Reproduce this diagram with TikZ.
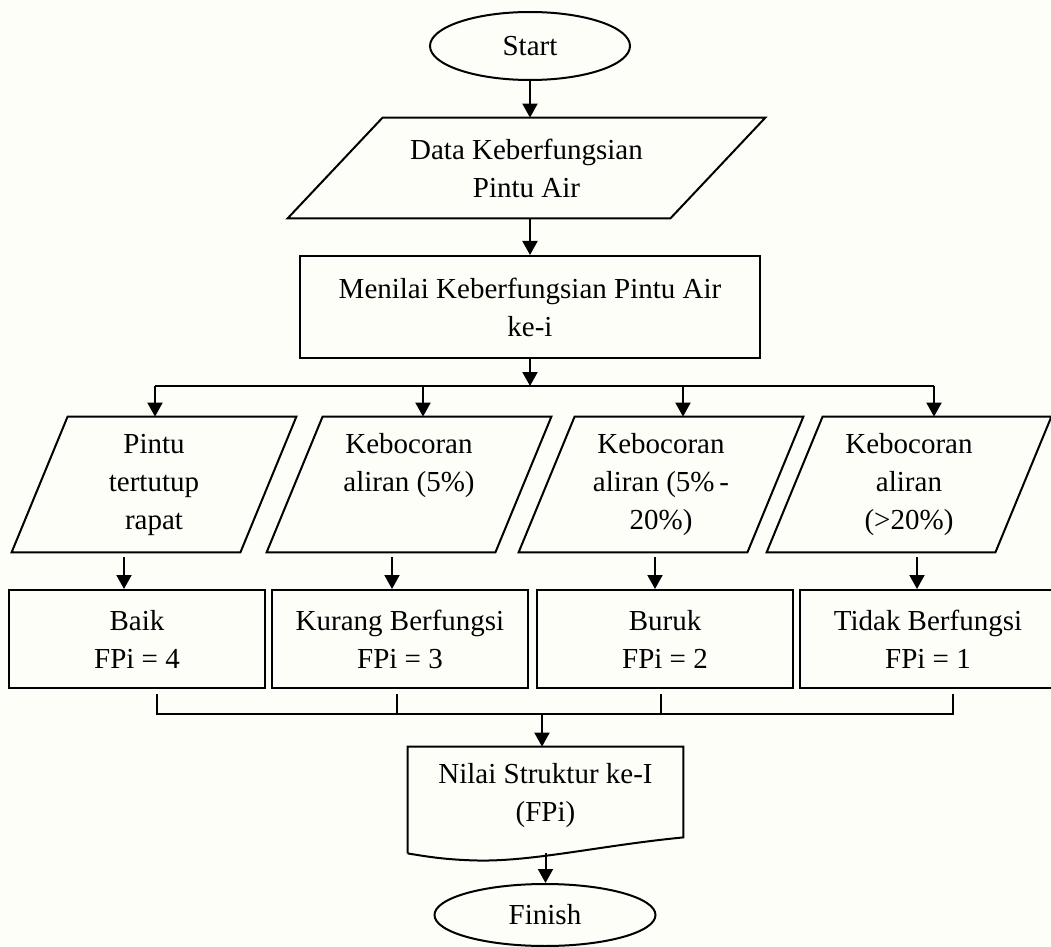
\documentclass[tikz,border=0pt]{standalone}
\usepackage{fontspec}
\setmainfont{Liberation Serif}
\usetikzlibrary{shapes.geometric,arrows.meta,calc}
\definecolor{paper}{RGB}{254,254,249}
\begin{document}
\begin{tikzpicture}[x=0.5pt,y=-0.5pt,
  every node/.style={font=\fontsize{14.5}{19}\selectfont, align=center, inner sep=0pt},
  line/.style={line width=1pt, draw=black, line join=miter},
  arr/.style={line width=1pt, -{Triangle[length=7pt,width=7.5pt]}},
  term/.style={ellipse, draw, line width=1pt},
  procbox/.style={rectangle, draw, line width=1pt, minimum width=128pt, minimum height=49pt},
  frame/.style={rectangle, minimum width=142pt, minimum height=67.5pt},
]
% page
\path[use as bounding box, fill=paper] (0,0) rectangle (1051,947);

% terminals and main column
\node[term, minimum width=100pt, minimum height=34pt] (start) at (530,46) {Start};
\node[rectangle, minimum width=238.5pt, minimum height=50pt] (data) at (526.5,168) {Data Keberfungsian\\Pintu Air};
\draw[line] ($(data.north west)+(95,0)$) -- (data.north east) -- ($(data.south east)+(-95,0)$) -- (data.south west) -- cycle;
\node[rectangle, draw, line width=1pt, minimum width=230pt, minimum height=51pt] (menilai) at (530,307) {Menilai Keberfungsian Pintu Air\\ke-i};

% input parallelograms
\node[frame] (p1) at (154,484.5) {Pintu\\tertutup\\rapat};
\node[frame] (p2) at (409,484.5) {Kebocoran\\aliran (5\%)\\\vphantom{p}};
\node[frame] (p3) at (661,484.5) {Kebocoran\\aliran (5\%\,-\\20\%)};
\node[frame] (p4) at (909,484.5) {Kebocoran\\aliran\\(>20\%)};
\foreach \p in {p1,p2,p3,p4}
  \draw[line] ($(\p.north west)+(56,0)$) -- (\p.north east) -- ($(\p.south east)+(-56,0)$) -- (\p.south west) -- cycle;

% result boxes
\node[procbox] (b1) at (137,639) {Baik\\FPi = 4};
\node[procbox] (b2) at (400,639) {Kurang Berfungsi\\FPi = 3};
\node[procbox] (b3) at (665,639) {Buruk\\FPi = 2};
\node[procbox] (b4) at (928,639) {Tidak Berfungsi\\FPi = 1};

% output document
\node[rectangle, minimum width=137.5pt, minimum height=49pt] (doc) at (545.5,796) {Nilai Struktur ke-I\\(FPi)};
\draw[line] ($(doc.south west)+(0,8)$) -- (doc.north west) -- (doc.north east) -- ($(doc.south east)+(0,-8)$)
  .. controls ($(doc.south east)+(-83,0)$) and ($(doc.south east)+(-153,17)$) .. ($(doc.south east)+(-210,15)$)
  .. controls ($(doc.south east)+(-243,14)$) and ($(doc.south east)+(-263,10)$) .. ($(doc.south west)+(0,8)$);
\coordinate (wave) at ($(doc.south)+(0,8)$);

\node[term, minimum width=110.5pt, minimum height=31pt] (fin) at (545,915) {Finish};

% connectors: main column
\draw[arr] (start.south) -- (start.south |- data.north);
\draw[arr] (menilai.north |- data.south) -- (menilai.north);
\coordinate (split) at (530,386);
\draw[arr] (menilai.south) -- (split);

% branching to the four inputs
\coordinate (c1) at (155,386);
\coordinate (c2) at (423,386);
\coordinate (c3) at (683,386);
\coordinate (c4) at (934,386);
\draw[line] (c1) -- (c4);
\draw[arr] (c1) -- (c1 |- p1.north);
\draw[arr] (c2) -- (c2 |- p2.north);
\draw[arr] (c3) -- (c3 |- p3.north);
\draw[arr] (c4) -- (c4 |- p4.north);

% inputs to results
\draw[arr, shorten <=2.5pt] ([xshift=-15pt]p1.south) -- ([xshift=-15pt]p1.south |- b1.north);
\draw[arr, shorten <=2.5pt] ([xshift=-8.5pt]p2.south) -- ([xshift=-8.5pt]p2.south |- b2.north);
\draw[arr, shorten <=2.5pt] ([xshift=-3pt]p3.south) -- ([xshift=-3pt]p3.south |- b3.north);
\draw[arr, shorten <=2.5pt] ([xshift=4pt]p4.south) -- ([xshift=4pt]p4.south |- b4.north);

% merging the results
\coordinate (m) at (542,714);
\draw[line] ([xshift=10pt,yshift=-2.5pt]b1.south) -- ([xshift=10pt]b1.south |- m) -- ([xshift=12.5pt]b4.south |- m) -- ([xshift=12.5pt,yshift=-2.5pt]b4.south);
\draw[line] ([xshift=-1.5pt,yshift=-2.5pt]b2.south) -- ([xshift=-1.5pt]b2.south |- m);
\draw[line] ([xshift=-2pt,yshift=-2.5pt]b3.south) -- ([xshift=-2pt]b3.south |- m);
\draw[arr] (m) -- (m |- doc.north);

% output to finish
\draw[arr] (wave) -- (wave |- fin.north);
\end{tikzpicture}
\end{document}
